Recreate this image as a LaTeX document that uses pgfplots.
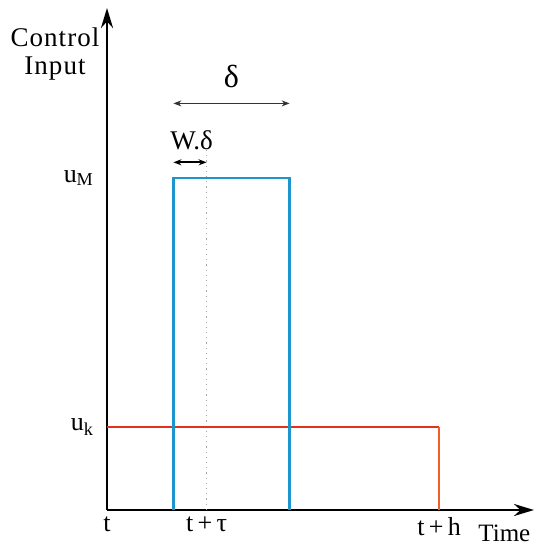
\documentclass[border=0pt]{standalone}
\usepackage{fontspec}
\setmainfont{Liberation Serif}
\usepackage{pgfplots}
\pgfplotsset{compat=1.18}
\usetikzlibrary{arrows.meta}
\definecolor{pulseblue}{RGB}{28,150,205}
\definecolor{holdred}{RGB}{225,50,28}
\definecolor{holdorange}{RGB}{240,95,40}
\begin{document}
\begin{tikzpicture}
\path[use as bounding box] (-53.5pt,-17pt) rectangle (213.5pt,255pt);
\begin{axis}[
  scale only axis,
  width=213.5pt, height=251pt,
  xmin=0, xmax=1.286, ymin=0, ymax=6.05,
  axis lines=left,
  axis line style={line width=1.4pt, -{Stealth[length=10pt,width=6pt]}},
  major tick length=0pt,
  xtick={0,0.3,1}, xticklabels={t, t\,+\,τ, t\,+\,h},
  ytick={1,4}, yticklabels={u\textsubscript{k}, u\textsubscript{M}},
  ticklabel style={font=\fontsize{13}{15}\selectfont},
  xticklabel style={yshift=0pt},
  yticklabel style={xshift=-3pt},
  clip=false,
]
% dotted guide at t + tau
\addplot[gray!70, dotted, line width=0.6pt] coordinates {(0.3,0) (0.3,4.34)};
% constant input over the sampling interval
\addplot[holdred, line width=1.1pt] coordinates {(0,1) (1,1)};
\addplot[holdorange, line width=1.1pt] coordinates {(1,1) (1,0)};
% pulse of width delta
\addplot[pulseblue, line width=1.3pt] coordinates {(0.2,0) (0.2,4) (0.55,4) (0.55,0)};
% width annotations
\draw[{Stealth[length=4pt,width=3pt]}-{Stealth[length=4pt,width=3pt]}, line width=0.5pt, black!80]
  (axis cs:0.2,4.9) -- (axis cs:0.55,4.9);
\draw[{Stealth[length=4pt,width=3pt]}-{Stealth[length=4pt,width=3pt]}, line width=0.9pt]
  (axis cs:0.2,4.19) -- (axis cs:0.3,4.19);
\node[font=\fontsize{16}{18}\selectfont] at (axis cs:0.375,5.22) {δ};
\node[font=\fontsize{13.5}{15}\selectfont] at (axis cs:0.255,4.45) {W.δ};
\node[font=\fontsize{13.5}{15}\selectfont, align=center, inner sep=0pt]
  at (-26pt,228pt) {\addfontfeature{LetterSpace=4}Control\\[-1pt]\addfontfeature{LetterSpace=4}Input};
\node[font=\fontsize{12.5}{14}\selectfont, anchor=west, inner sep=0pt]
  at (185.5pt,-11.5pt) {Time};
\end{axis}
\end{tikzpicture}
\end{document}
